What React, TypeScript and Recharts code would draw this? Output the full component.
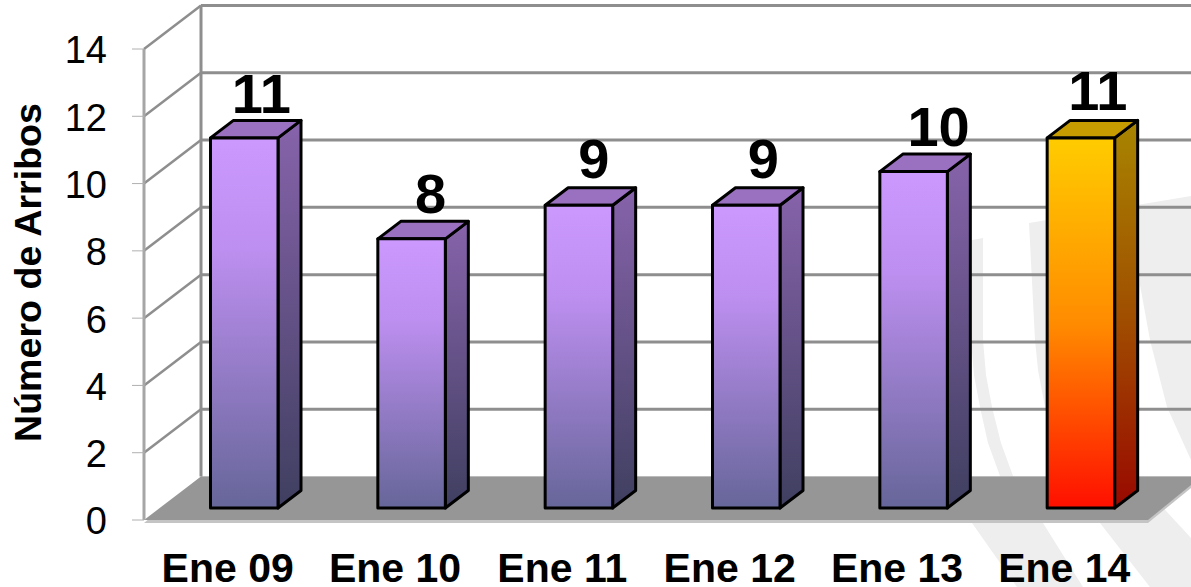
import React from "react";
import { BarChart, Bar, XAxis, YAxis, CartesianGrid, LabelList } from "recharts";

const categories = ["Ene 09", "Ene 10", "Ene 11", "Ene 12", "Ene 13", "Ene 14"];
const arribos = [11, 8, 9, 9, 10, 11];
const yTicks = [0, 2, 4, 6, 8, 10, 12, 14];
const highlightCategory = "Ene 14";
const yTitle = "Número de Arribos";

const data = categories.map((mes, i) => ({ mes, arribos: arribos[i] }));

const W = 1191;
const H = 587;
const FONT = "'Liberation Sans', Arial, sans-serif";
const PLOT_LEFT = 144;
const PLOT_TOP = 49;
const PLOT_BOTTOM = 520;
const WALL_DX = 57;
const WALL_DY = 43.5;
const BAR_DX = 16.5;
const BAR_DY = 12;
const BAR_DEPTH_X = 23;
const BAR_DEPTH_Y = 17.5;
const GRID = "#8e8e8e";
const LABEL_NUDGE_X = [-1, 1, -3, -1, 7, -1];
const LABEL_NUDGE_Y = [0, -1, -2, -2, -1, -3];

const watermarkA =
  "972,240 983,238 983,340 986,375 992,407 1001,443 1013,476 1043,523 1083,587 1017,587 972,523 1000,476 988,443 980,407 974,375 971,340";
const watermarkB =
  "1029,223 1191,196 1191,460 1167,407 1150,340 1140,285 1130,470 1167,512 1191,538 1191,587 1150,587 1100,523 1065,470 1053,440 1045,407 1038,370 1035,340";

function GridLine(props: any) {
  const { x1, y1 } = props;
  const isBottom = Math.abs(y1 - PLOT_BOTTOM) < 1;
  const isTop = Math.abs(y1 - PLOT_TOP) < 1;
  const bx = x1 + WALL_DX;
  const by = y1 - WALL_DY;
  return (
    <g>
      {isBottom && (
        <>
          <polygon
            points={`${x1},${y1 + 3} ${W - 43},${y1 + 3} ${W},${y1 - 32} ${W},${by} ${bx},${by} `}
            fill="#c4c4c4"
          />
          <polygon
            points={`${x1},${y1} ${W - 43},${y1} ${W},${y1 - 35} ${W},${by} ${bx},${by}`}
            fill="#969696"
          />
        </>
      )}
      {isTop && (
        <line x1={bx} y1={by} x2={bx} y2={PLOT_BOTTOM - WALL_DY} stroke={GRID} strokeWidth={3} />
      )}
      {!isBottom && (
        <>
          <line x1={x1} y1={y1} x2={bx} y2={by} stroke={GRID} strokeWidth={2.5} />
          <line x1={bx} y1={by} x2={W} y2={by} stroke={GRID} strokeWidth={3} />
        </>
      )}
    </g>
  );
}

function Bar3D(props: any) {
  const { x, y, width, height, payload } = props;
  const hot = payload.mes === highlightCategory;
  const left = x + BAR_DX;
  const right = left + width;
  const top = y - BAR_DY;
  const bottom = top + height;
  const dx = BAR_DEPTH_X;
  const dy = BAR_DEPTH_Y;
  return (
    <g stroke="#000" strokeWidth={3} strokeLinejoin="round">
      <polygon
        points={`${right},${top} ${right + dx},${top - dy} ${right + dx},${bottom - dy} ${right},${bottom}`}
        fill={hot ? "url(#sideHot)" : "url(#sidePurple)"}
      />
      <polygon
        points={`${left},${top} ${left + dx},${top - dy} ${right + dx},${top - dy} ${right},${top}`}
        fill={hot ? "#c79c00" : "#9a70c0"}
      />
      <rect
        x={left}
        y={top}
        width={width}
        height={height}
        fill={hot ? "url(#frontHot)" : "url(#frontPurple)"}
      />
    </g>
  );
}

function ValueLabel(props: any) {
  const { x, y, width, value, index } = props;
  return (
    <text
      x={x + width / 2 + BAR_DX + 18 + (LABEL_NUDGE_X[index] ?? 0)}
      y={y - BAR_DY - 25 + (LABEL_NUDGE_Y[index] ?? 0)}
      textAnchor="middle"
      fontFamily={FONT}
      fontWeight={700}
      fontSize={56}
      fill="#000"
    >
      {value}
    </text>
  );
}

function XTick(props: any) {
  const { x, payload } = props;
  return (
    <text x={x} y={582} textAnchor="middle" fontFamily={FONT} fontWeight={700} fontSize={41} fill="#000">
      {payload.value}
    </text>
  );
}

function YTitle() {
  return (
    <text
      transform="translate(41,272.5) rotate(-90)"
      textAnchor="middle"
      fontFamily={FONT}
      fontWeight={700}
      fontSize={37.6}
      fill="#000"
    >
      {yTitle}
    </text>
  );
}

export default function App() {
  return (
    <div style={{ position: "absolute", left: 0, top: 0, width: W, height: H, overflow: "hidden", background: "#fff" }}>
      <svg width={W} height={H} style={{ position: "absolute", left: 0, top: 0 }}>
        <polygon points={watermarkA} fill="#eeeeee" />
        <polygon points={watermarkB} fill="#eeeeee" />
      </svg>
      <div style={{ position: "absolute", left: 0, top: 0 }}>
        <BarChart
          width={W}
          height={H}
          data={data}
          margin={{ top: PLOT_TOP, left: 0, right: 43, bottom: 0 }}
          style={{ overflow: "visible" }}
        >
          <defs>
            <linearGradient id="frontPurple" x1="0" y1="0" x2="0" y2="1">
              <stop offset="0" stopColor="#cc99ff" />
              <stop offset="0.3" stopColor="#bd8ff0" />
              <stop offset="1" stopColor="#666699" />
            </linearGradient>
            <linearGradient id="sidePurple" x1="0" y1="0" x2="0" y2="1">
              <stop offset="0" stopColor="#8763ab" />
              <stop offset="1" stopColor="#3f3f60" />
            </linearGradient>
            <linearGradient id="frontHot" x1="0" y1="0" x2="0" y2="1">
              <stop offset="0" stopColor="#ffcc00" />
              <stop offset="0.5" stopColor="#ff8c00" />
              <stop offset="1" stopColor="#ff0f00" />
            </linearGradient>
            <linearGradient id="sideHot" x1="0" y1="0" x2="0" y2="1">
              <stop offset="0" stopColor="#a88500" />
              <stop offset="0.5" stopColor="#a04f00" />
              <stop offset="1" stopColor="#990800" />
            </linearGradient>
          </defs>
          <CartesianGrid vertical={false} horizontal={(p: any) => <GridLine key={p.key} {...p} />} />
          <XAxis
            dataKey="mes"
            height={67}
            interval={0}
            axisLine={false}
            tickLine={false}
            tick={<XTick />}
          />
          <YAxis
            width={PLOT_LEFT}
            domain={[0, 14]}
            ticks={yTicks}
            interval={0}
            tickSize={12}
            tickMargin={25}
            axisLine={{ stroke: "#a6a6a6", strokeWidth: 3 }}
            tickLine={{ stroke: "#b0b0b0", strokeWidth: 1 }}
            tick={{ fontFamily: FONT, fontSize: 38, fill: "#000", dy: 1 }}
            label={<YTitle />}
          />
          <Bar dataKey="arribos" barSize={67.5} shape={<Bar3D />} isAnimationActive={false}>
            <LabelList dataKey="arribos" content={<ValueLabel />} />
          </Bar>
        </BarChart>
      </div>
    </div>
  );
}
